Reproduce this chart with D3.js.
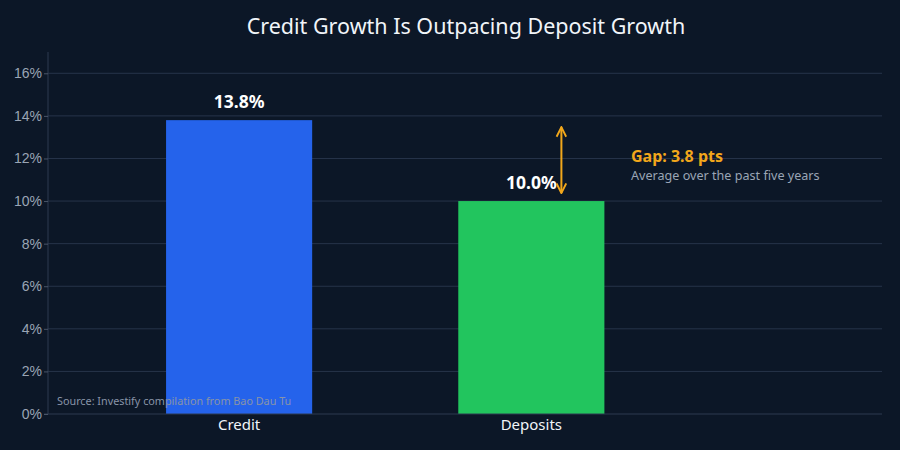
<!DOCTYPE html>
<html>
<head>
<meta charset="utf-8">
<script src="https://cdn.jsdelivr.net/npm/d3@7"></script>
<style>
  html, body { margin: 0; padding: 0; background: #0c1727; }
  svg { display: block; font-family: "Noto Sans", "Open Sans", sans-serif; }
</style>
</head>
<body>
<div id="chart"></div>
<script>
const categories = ["Credit", "Deposits"];
const values = [13.8, 10.0];
const barColors = ["#2563eb", "#22c55e"];
const yTicks = [0, 2, 4, 6, 8, 10, 12, 14, 16];
const gapLabel = "Gap: 3.8 pts";
const gapNote = "Average over the past five years";
const title = "Credit Growth Is Outpacing Deposit Growth";
const source = "Source: Investify compilation from Bao Dau Tu";

const width = 900, height = 450;
const margin = { top: 52, right: 18, bottom: 36, left: 48 };

const svg = d3.select("#chart").append("svg")
  .attr("width", width)
  .attr("height", height);

svg.append("rect").attr("width", width).attr("height", height).attr("fill", "#0c1727");

// x as a linear index scale so the right side leaves room for the note
const x = d3.scaleLinear()
  .domain([-0.654, 2.2])
  .range([margin.left, width - margin.right]);
const barW = x(0.5) - x(0);

const y = d3.scaleLinear()
  .domain([0, 17])
  .range([height - margin.bottom, margin.top]);

// grid
svg.append("g")
  .selectAll("line")
  .data(yTicks.slice(1))
  .enter().append("line")
  .attr("x1", margin.left).attr("x2", width - margin.right)
  .attr("y1", d => y(d)).attr("y2", d => y(d))
  .attr("stroke", "#27344a").attr("stroke-width", 1);

// y axis
const yAxis = svg.append("g")
  .attr("transform", `translate(${margin.left},0)`)
  .call(d3.axisLeft(y).tickValues(yTicks).tickFormat(d => d + "%").tickSize(4).tickPadding(2));
yAxis.select(".domain").attr("stroke", "#2c3a50").attr("d", `M-4,${y(0)}H0V${margin.top}`);
yAxis.selectAll(".tick line").attr("stroke", "#4a5568");
yAxis.selectAll("text").attr("fill", "#9aa5b5").style("font-size", "14px");

// bars
svg.append("g")
  .selectAll("rect")
  .data(values)
  .enter().append("rect")
  .attr("x", (d, i) => x(i) - barW / 2)
  .attr("width", barW)
  .attr("y", d => y(d))
  .attr("height", d => y(0) - y(d))
  .attr("fill", (d, i) => barColors[i]);

// x baseline
svg.append("line")
  .attr("x1", margin.left).attr("x2", width - margin.right)
  .attr("y1", y(0)).attr("y2", y(0))
  .attr("stroke", "#2c3a50");

// category labels
svg.append("g")
  .selectAll("text")
  .data(categories)
  .enter().append("text")
  .attr("x", (d, i) => x(i))
  .attr("y", y(0) + 16)
  .attr("text-anchor", "middle")
  .attr("fill", "#f1f5f9")
  .style("font-size", "15px")
  .text(d => d);

// value labels
svg.append("g")
  .selectAll("text")
  .data(values)
  .enter().append("text")
  .attr("x", (d, i) => x(i))
  .attr("y", d => y(d) - 12)
  .attr("text-anchor", "middle")
  .attr("fill", "#ffffff")
  .style("font-size", "17.5px")
  .style("font-weight", "bold")
  .text(d => d.toFixed(1) + "%");

// gap arrow
const orange = "#f2a71b";
const defs = svg.append("defs");
["start", "end"].forEach(k => {
  defs.append("marker")
    .attr("id", "arr-" + k)
    .attr("viewBox", "0 0 10 10")
    .attr("refX", 9).attr("refY", 5)
    .attr("markerWidth", 6).attr("markerHeight", 6)
    .attr("orient", k === "start" ? "auto-start-reverse" : "auto")
    .append("path")
    .attr("d", "M1,1L9,5L1,9")
    .attr("fill", "none")
    .attr("stroke", orange)
    .attr("stroke-width", 1.6);
});
const ax = x(1) + barW / 2 - 43;
svg.append("line")
  .attr("x1", ax).attr("x2", ax)
  .attr("y1", y(values[0]) + 7).attr("y2", y(values[1]) - 8)
  .attr("stroke", orange).attr("stroke-width", 2)
  .attr("marker-start", "url(#arr-start)")
  .attr("marker-end", "url(#arr-end)");

svg.append("text")
  .attr("x", 631).attr("y", y(11.84))
  .attr("fill", orange)
  .style("font-size", "16px").style("font-weight", "bold")
  .text(gapLabel);
svg.append("text")
  .attr("x", 631).attr("y", y(10.97))
  .attr("fill", "#9aa5b5")
  .style("font-size", "12.6px")
  .text(gapNote);

// title
svg.append("text")
  .attr("x", 466).attr("y", 34)
  .attr("text-anchor", "middle")
  .attr("fill", "#f1f5f9")
  .style("font-size", "21.5px")
  .text(title);

// source
svg.append("text")
  .attr("x", 57).attr("y", 405)
  .attr("fill", "#8894a8")
  .style("font-size", "10.8px")
  .text(source);
</script>
</body>
</html>
